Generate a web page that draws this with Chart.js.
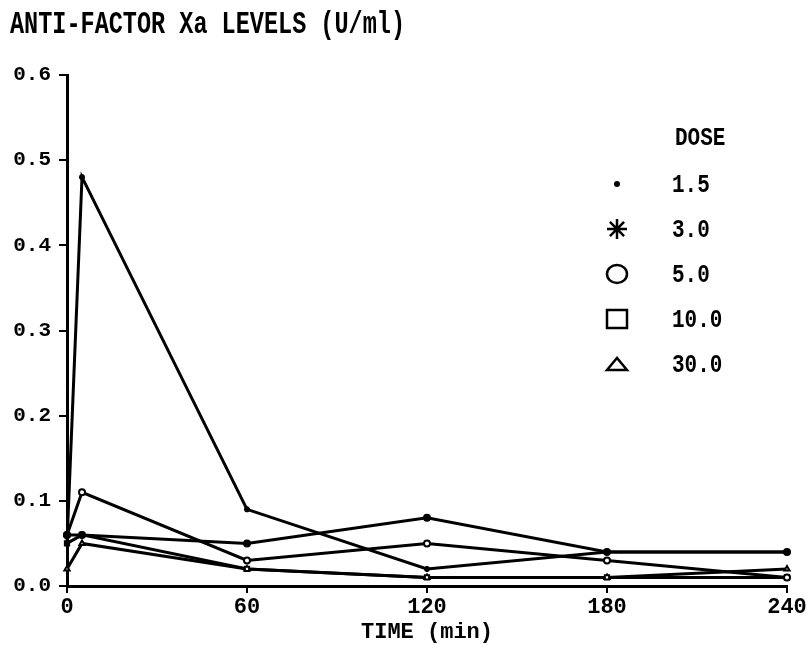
<!DOCTYPE html>
<html>
<head>
<meta charset="utf-8">
<script src="https://cdn.jsdelivr.net/npm/chart.js@4.4.1/dist/chart.umd.min.js"></script>
<style>
    html, body { margin: 0; padding: 0; background: #fff; }
    #wrap { width: 809px; height: 656px; }
</style>
</head>
<body>
<div id="wrap"><canvas id="plotCanvas" width="809" height="656"></canvas></div>
<script>
// sampling times (min) and anti-Xa levels (U/ml) per dose
const times = [0, 5, 60, 120, 180, 240];
const doseLabels = ['1.5', '3.0', '5.0', '10.0', '30.0'];
const dose1_5 = [0.06, 0.06, 0.05, 0.08, 0.04, 0.04];
const dose3_0 = [0.05, 0.48, 0.09, 0.02, 0.04, 0.04];
const dose5_0 = [0.06, 0.11, 0.03, 0.05, 0.03, 0.01];
const dose10_0 = [0.05, 0.06, 0.02, 0.01, 0.01, 0.01];
const dose30_0 = [0.02, 0.05, 0.02, 0.01, 0.01, 0.02];
const doseSeries = [dose1_5, dose3_0, dose5_0, dose10_0, dose30_0];
const markerStyles = ['circle', 'star', 'circle', 'rect', 'triangle'];

const titleText = 'ANTI-FACTOR Xa LEVELS (U/ml)';
const xTitle = 'TIME (min)';
const legendTitle = 'DOSE';

const FONT = '"Liberation Mono", "DejaVu Sans Mono", monospace';

document.addEventListener('DOMContentLoaded', () => {
    const ctx = document.getElementById('plotCanvas').getContext('2d');

    const datasets = doseSeries.map((vals, i) => ({
        label: doseLabels[i],
        data: vals.map((v, k) => ({ x: times[k], y: v })),
        borderColor: '#000',
        borderWidth: 3,
        pointStyle: markerStyles[i],
        pointRadius: 3,
        pointBorderWidth: 2,
        pointBorderColor: '#000',
        pointBackgroundColor: i === 0 ? '#000' : '#fff',
        tension: 0,
        clip: false
    }));

    // stretched text, the plotter font is taller than the screen one
    function tallText(c, text, x, y, width, yScale) {
        const w = c.measureText(text).width;
        c.save();
        c.translate(x, y);
        c.scale(width ? width / w : 1, yScale);
        c.fillText(text, 0, 0);
        c.restore();
    }

    // title + legend block
    const decorations = {
        id: 'decorations',
        afterDraw(chart) {
            const c = chart.ctx;
            c.save();
            c.fillStyle = '#000';
            c.strokeStyle = '#000';
            c.textBaseline = 'alphabetic';

            c.font = 'bold 24px ' + FONT;
            tallText(c, titleText, 10, 33, 395, 1.3);

            c.font = 'bold 21px ' + FONT;
            tallText(c, legendTitle, 675, 145, 0, 1.25);

            doseLabels.forEach((lab, i) => {
                const y = 184 + i * 45;
                const x = 617;
                tallText(c, lab, 672, y + 8, 0, 1.25);
                c.lineWidth = 2.5;
                c.beginPath();
                if (markerStyles[i] === 'star') {
                    for (let a = 0; a < 4; a++) {
                        const ang = a * Math.PI / 4;
                        c.moveTo(x - 10 * Math.cos(ang), y - 10 * Math.sin(ang));
                        c.lineTo(x + 10 * Math.cos(ang), y + 10 * Math.sin(ang));
                    }
                    c.stroke();
                } else if (i === 0) {
                    c.arc(x, y, 3, 0, Math.PI * 2);
                    c.fill();
                } else if (markerStyles[i] === 'circle') {
                    c.ellipse(x, y, 10, 9, 0, 0, Math.PI * 2);
                    c.stroke();
                } else if (markerStyles[i] === 'rect') {
                    c.rect(x - 10, y - 9, 20, 18);
                    c.stroke();
                } else {
                    c.moveTo(x - 10, y + 6);
                    c.lineTo(x, y - 6);
                    c.lineTo(x + 10, y + 6);
                    c.closePath();
                    c.stroke();
                }
            });
            c.restore();
        }
    };

    new Chart(ctx, {
        type: 'line',
        data: { datasets },
        options: {
            responsive: false,
            animation: false,
            layout: { padding: { left: 0, right: 22, top: 75, bottom: 0 } },
            plugins: {
                legend: { display: false },
                tooltip: { enabled: false },
                title: { display: false }
            },
            scales: {
                x: {
                    type: 'linear',
                    min: 0,
                    max: 240,
                    ticks: {
                        stepSize: 60,
                        color: '#000',
                        padding: 1,
                        maxRotation: 0,
                        font: { family: FONT, size: 22, weight: 'bold' }
                    },
                    grid: { drawOnChartArea: false, drawTicks: true, tickLength: 7, color: '#000', lineWidth: 2 },
                    border: { color: '#000', width: 3 },
                    title: {
                        display: true,
                        text: xTitle,
                        color: '#000',
                        padding: { top: 2, bottom: 10 },
                        font: { family: FONT, size: 22, weight: 'bold' }
                    },
                    afterFit(scale) { scale.height = 70; }
                },
                y: {
                    type: 'linear',
                    min: 0,
                    max: 0.6,
                    ticks: {
                        stepSize: 0.1,
                        color: '#000',
                        padding: 8,
                        callback: v => v.toFixed(1),
                        font: { family: FONT, size: 21, weight: 'bold' }
                    },
                    grid: { drawOnChartArea: false, drawTicks: true, tickLength: 8, color: '#000', lineWidth: 2 },
                    border: { color: '#000', width: 3 },
                    afterFit(scale) { scale.width = 67; }
                }
            }
        },
        plugins: [decorations]
    });
});
</script>
</body>
</html>
